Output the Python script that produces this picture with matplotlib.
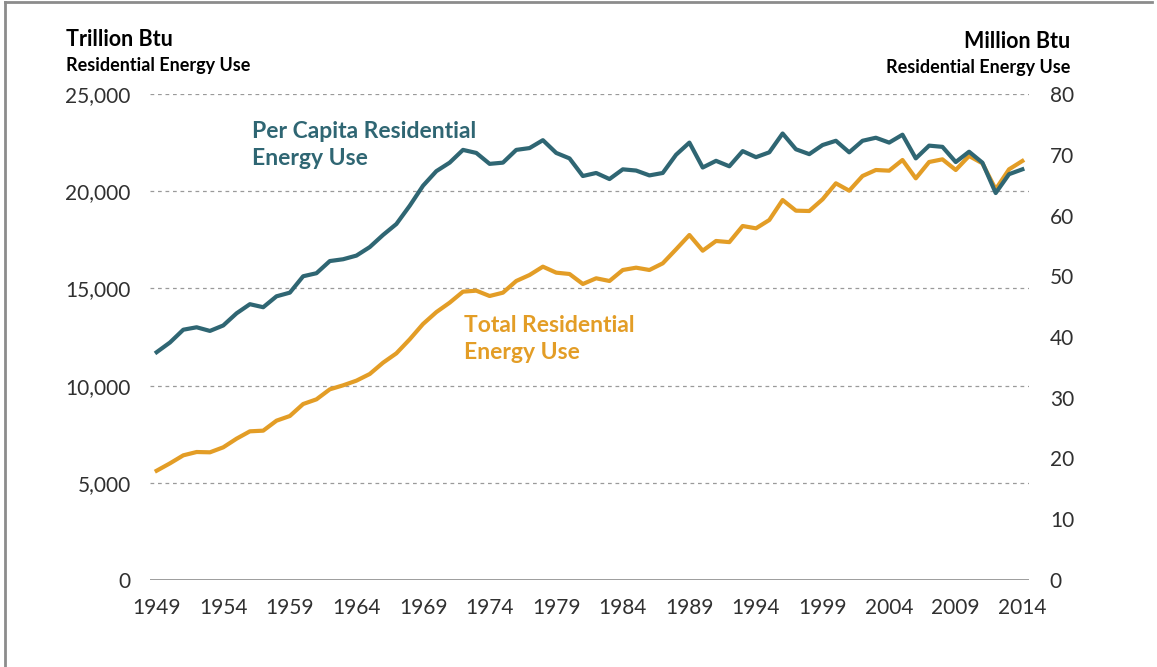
import matplotlib
matplotlib.use("Agg")
import matplotlib.pyplot as plt
from matplotlib.lines import Line2D

years = list(range(1949, 2015))

total_use = [5622, 6001, 6413, 6584, 6568, 6825, 7270, 7648, 7682, 8196,
             8436, 9053, 9294, 9808, 10014, 10254, 10597, 11179, 11660, 12380,
             13169, 13780, 14266, 14832, 14883, 14609, 14780, 15381, 15690, 16118,
             15810, 15741, 15226, 15520, 15381, 15947, 16066, 15947, 16290, 17010,
             17747, 16940, 17439, 17380, 18210, 18090, 18518, 19547, 18998, 18981,
             19582, 20405, 20027, 20782, 21091, 21056, 21605, 20662, 21502, 21640,
             21091, 21811, 21434, 20096, 21125, 21554]

per_capita = [37.5, 39.1, 41.2, 41.6, 41.0, 41.9, 43.9, 45.4, 44.9, 46.7,
              47.3, 50.0, 50.5, 52.5, 52.8, 53.4, 54.8, 56.8, 58.6, 61.6,
              64.9, 67.3, 68.7, 70.8, 70.3, 68.5, 68.7, 70.8, 71.1, 72.4,
              70.3, 69.4, 66.5, 67.0, 66.0, 67.6, 67.4, 66.6, 67.0, 70.0,
              72.0, 67.9, 69.0, 68.1, 70.6, 69.6, 70.4, 73.5, 70.9, 70.1,
              71.6, 72.3, 70.4, 72.3, 72.8, 72.0, 73.3, 69.4, 71.5, 71.3,
              68.8, 70.5, 68.7, 63.7, 66.8, 67.6]

x_ticks = list(range(1949, 2015, 5))
left_ticks = [0, 5000, 10000, 15000, 20000, 25000]
right_ticks = [0, 10, 20, 30, 40, 50, 60, 70, 80]

TEAL = "#2F6673"
ORANGE = "#E39D26"
TEXT = "#303030"
FONT = ["Lato", "DejaVu Sans"]

plt.rcParams["font.family"] = FONT

W, H = 1157, 667
fig = plt.figure(figsize=(W / 100, H / 100), dpi=100)
fig.patch.set_facecolor("white")

def fx(px):
    return px / W

def fy(py):
    return 1 - py / H

ax = fig.add_axes([fx(150), fy(580), fx(1029) - fx(150), fy(94) - fy(580)])
ax2 = ax.twinx()

ax.plot(years, total_use, color=ORANGE, lw=3.0, solid_joinstyle="round", zorder=3)
ax2.plot(years, per_capita, color=TEAL, lw=3.0, solid_joinstyle="round", zorder=3)

ax.set_xlim(1948.5, 2014.5)
ax.set_ylim(0, 25000)
ax2.set_ylim(0, 80)

ax.set_yticks(left_ticks)
ax.set_yticklabels([f"{v:,}" for v in left_ticks])
ax2.set_yticks(right_ticks)
ax2.set_yticklabels([str(v) for v in right_ticks])
ax.set_xticks(x_ticks)
ax.set_xticklabels([str(v) for v in x_ticks])

for a in (ax, ax2):
    for s in a.spines.values():
        s.set_visible(False)
    a.tick_params(length=0, labelsize=15, colors=TEXT)
ax.tick_params(axis="y", pad=14)
ax2.tick_params(axis="y", pad=15)
ax.tick_params(axis="x", pad=13)

for v in left_ticks[1:]:
    ax.axhline(v, color="#9A9A9A", lw=0.9, ls=(0, (3, 3)), zorder=1)
ax.axhline(0, color="#8C8C8C", lw=1.2, zorder=1)

# Axis titles
fig.text(fx(66), fy(39), "Trillion Btu", fontsize=15.5, fontweight="bold",
         color="black", ha="left", va="center")
fig.text(fx(66), fy(65), "Residential Energy Use", fontsize=13, fontweight="bold",
         color="black", ha="left", va="center")
fig.text(fx(1070), fy(42), "Million Btu", fontsize=15.5, fontweight="bold",
         color="black", ha="right", va="center")
fig.text(fx(1070), fy(68), "Residential Energy Use", fontsize=13, fontweight="bold",
         color="black", ha="right", va="center")

# Series labels
fig.text(fx(252), fy(145), "Per Capita Residential\nEnergy Use", fontsize=16.5,
         fontweight="bold", color=TEAL, ha="left", va="center", linespacing=1.38)
fig.text(fx(464), fy(339), "Total Residential\nEnergy Use", fontsize=16.5,
         fontweight="bold", color=ORANGE, ha="left", va="center", linespacing=1.38)

# Border (top and left)
fig.add_artist(Line2D([fx(5), fx(1152)], [fy(2), fy(2)], color="#8C8C8C", lw=2.0))
fig.add_artist(Line2D([fx(5), fx(5)], [fy(2), fy(667)], color="#8C8C8C", lw=2.0))

fig.savefig("out.png", dpi=100, facecolor="white")
